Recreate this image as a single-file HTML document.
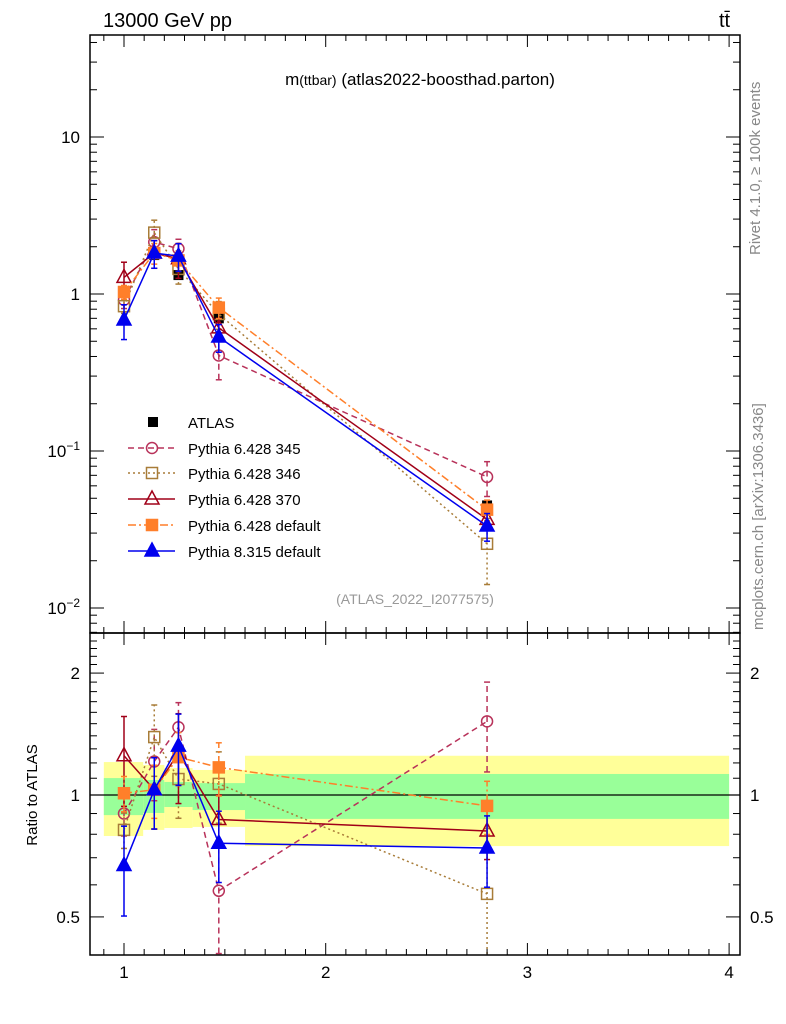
<!DOCTYPE html>
<html><head><meta charset="utf-8">
<style>
html,body{margin:0;padding:0;background:#fff;}
svg{display:block;font-family:"Liberation Sans",sans-serif;}
</style></head>
<body>
<svg id="chart" width="786" height="1024" xmlns="http://www.w3.org/2000/svg">
<defs>
<clipPath id="clipMain"><rect x="90" y="35" width="650" height="598"/></clipPath>
<clipPath id="clipRatio"><rect x="90" y="633" width="650" height="322"/></clipPath>
</defs>
<text x="103" y="27" font-size="20">13000 GeV pp</text>
<text x="719" y="27" font-size="20">tt̄</text>
<text x="420" y="85" font-size="17" text-anchor="middle">m<tspan font-size="14">(ttbar)</tspan> (atlas2022-boosthad.parton)</text>
<text x="415" y="604" font-size="14" fill="#999" text-anchor="middle">(ATLAS_2022_I2077575)</text>
<text transform="translate(760,255) rotate(-90)" font-size="15" fill="#888">Rivet 4.1.0, ≥ 100k events</text>
<text transform="translate(763,630) rotate(-90)" font-size="15" fill="#888">mcplots.cern.ch [arXiv:1306.3436]</text>
<text transform="translate(37,795) rotate(-90)" font-size="15" text-anchor="middle">Ratio to ATLAS</text>
<g id="bands"></g>
<g id="ratio" clip-path="url(#clipRatio)"></g>
<g id="main" clip-path="url(#clipMain)"></g>
<g id="axes"></g>
<g id="legend"></g>
</svg>
<script>
const xs = [1.0, 1.15, 1.27, 1.47, 2.8];
const atlas = [1.02, 1.77, 1.32, 0.70, 0.045];
const atlasErr = [0.04, 0.08, 0.06, 0.04, 0.004];
const r345 = [0.90, 1.21, 1.47, 0.58, 1.52];
const r346 = [0.82, 1.39, 1.095, 1.065, 0.57];
const r370 = [1.25, 1.03, 1.27, 0.87, 0.815];
const rP6def = [1.01, 1.03, 1.24, 1.17, 0.94];
const rP8 = [0.67, 1.03, 1.32, 0.76, 0.74];
const e345 = [0.12, 0.2, 0.15, 0.3, 0.25];
const e346 = [0.1, 0.2, 0.2, 0.2, 0.45];
const e370 = [0.25, 0.2, 0.25, 0.15, 0.15];
const eP6def = [0.1, 0.15, 0.15, 0.15, 0.15];
const eP8 = [0.25, 0.2, 0.2, 0.2, 0.2];
const binEdges = [0.9, 1.095, 1.2, 1.34, 1.6, 4.0];
const yelLo = [0.792, 0.82, 0.829, 0.834, 0.748];
const yelHi = [1.206, 1.186, 1.166, 1.153, 1.25];
const grnLo = [0.892, 0.903, 0.934, 0.918, 0.873];
const grnHi = [1.101, 1.089, 1.077, 1.07, 1.127];
const xTicks = [1, 2, 3, 4];

const NS = "http://www.w3.org/2000/svg";
const L = 90, R = 740, MT = 35, MB = 633, RB = 955;
const X = v => 124 + (v - 1) * 201.7;
const YM = v => 294 - Math.log10(v) * 157;
const YR = v => 795 - Math.log10(v) * 405;
function mk(tag, attrs, parent) {
  const e = document.createElementNS(NS, tag);
  for (const k in attrs) e.setAttribute(k, attrs[k]);
  parent.appendChild(e); return e;
}
const g = id => document.getElementById(id);

for (let i = 0; i < yelLo.length; i++) {
  const x0 = X(binEdges[i]), x1 = X(binEdges[i + 1]);
  const y = mk('rect', {x: x0, y: YR(yelHi[i]), width: x1 - x0, height: YR(yelLo[i]) - YR(yelHi[i]), fill: '#ffff99'}, g('bands'));
  
  
  const gr = mk('rect', {x: x0, y: YR(grnHi[i]), width: x1 - x0, height: YR(grnLo[i]) - YR(grnHi[i]), fill: '#99ff99'}, g('bands'));
  
  
}
mk('line', {x1: L, x2: R, y1: YR(1), y2: YR(1), stroke: '#000', 'stroke-width': 1.2}, g('bands'));

const series = [
  {name: 'Pythia 6.428 345', r: r345, e: e345, c: '#b8325a', dash: '6,4', m: 'circle', fill: 'none'},
  {name: 'Pythia 6.428 346', r: r346, e: e346, c: '#a87c38', dash: '2,3', m: 'square', fill: 'none'},
  {name: 'Pythia 6.428 370', r: r370, e: e370, c: '#a00018', dash: '', m: 'tri', fill: 'none'},
  {name: 'Pythia 6.428 default', r: rP6def, e: eP6def, c: '#ff7f2a', dash: '8,3,2,3', m: 'square', fill: '#ff7f2a'},
  {name: 'Pythia 8.315 default', r: rP8, e: eP8, c: '#0000ee', dash: '', m: 'tri', fill: '#0000ee'}
];
function marker(parent, m, x, y, c, fill) {
  let e;
  if (m === 'circle') e = mk('circle', {cx: x, cy: y, r: 5.5, fill: 'none', stroke: c, 'stroke-width': 1.5}, parent);
  else if (m === 'square') e = mk('rect', {x: x - 5.5, y: y - 5.5, width: 11, height: 11, fill: fill, stroke: c, 'stroke-width': 1.5}, parent);
  else e = mk('polygon', {points: `${x},${y - 8} ${x - 7},${y + 5} ${x + 7},${y + 5}`, fill: fill, stroke: c, 'stroke-width': 1.5}, parent);
  
  
}
function drawSeries(s, parentId, Yf, valFn) {
  const grp = mk('g', {}, g(parentId));
  
  
  const vals = xs.map((_, i) => valFn(i));
  const pts = xs.map((x, i) => X(x) + ',' + Yf(vals[i])).join(' ');
  const line = mk('polyline', {points: pts, fill: 'none', stroke: s.c, 'stroke-width': 1.5, 'stroke-dasharray': s.dash}, grp);
  
  
  xs.forEach((x, i) => {
    const v = vals[i], lo = v * (1 - Math.min(s.e[i], 0.9)), hi = v * (1 + s.e[i]);
    mk('line', {x1: X(x), x2: X(x), y1: Yf(lo), y2: Yf(hi), stroke: s.c, 'stroke-width': 1.5, 'stroke-dasharray': s.dash}, grp);
    mk('line', {x1: X(x) - 3, x2: X(x) + 3, y1: Yf(hi), y2: Yf(hi), stroke: s.c, 'stroke-width': 1.5}, grp);
    mk('line', {x1: X(x) - 3, x2: X(x) + 3, y1: Yf(lo), y2: Yf(lo), stroke: s.c, 'stroke-width': 1.5}, grp);
    marker(grp, s.m, X(x), Yf(v), s.c, s.fill);
  });
}
xs.forEach((x, i) => {
  mk('line', {x1: X(x), x2: X(x), y1: YM(atlas[i] - atlasErr[i]), y2: YM(atlas[i] + atlasErr[i]), stroke: '#000', 'stroke-width': 1.5}, g('main'));
  const r = mk('rect', {x: X(x) - 5, y: YM(atlas[i]) - 5, width: 10, height: 10, fill: '#000'}, g('main'));
  
  
});
series.forEach(s => {
  drawSeries(s, 'main', YM, i => atlas[i] * s.r[i]);
  drawSeries(s, 'ratio', YR, i => s.r[i]);
});

const ax = g('axes');
mk('rect', {x: L, y: MT, width: R - L, height: MB - MT, fill: 'none', stroke: '#000', 'stroke-width': 1.5}, ax);
mk('rect', {x: L, y: MB, width: R - L, height: RB - MB, fill: 'none', stroke: '#000', 'stroke-width': 1.5}, ax);
for (let v = 0.9; v <= 4.0501; v += 0.1) {
  const x = X(v), major = Math.abs(v - Math.round(v)) < 0.01;
  const len = major ? 12 : 6;
  [[MT, 1], [MB, -1], [MB, 1], [RB, -1]].forEach(([y, d]) => mk('line', {x1: x, x2: x, y1: y, y2: y + d * len, stroke: '#000'}, ax));
}
xTicks.forEach(t => {
  const e = mk('text', {x: X(t), y: 978, 'font-size': 17, 'text-anchor': 'middle'}, ax);
  e.textContent = t;
  
  
});
for (let d = -3; d <= 1; d++) for (let k = 1; k <= 9; k++) {
  const v = k * Math.pow(10, d), y = YM(v);
  if (y < MT || y > MB) continue;
  const len = k === 1 ? 14 : 7;
  mk('line', {x1: L, x2: L + len, y1: y, y2: y, stroke: '#000'}, ax);
  mk('line', {x1: R, x2: R - len, y1: y, y2: y, stroke: '#000'}, ax);
}
[[10, '10'], [1, '1']].forEach(([v, s]) => {
  const e = mk('text', {x: 80, y: YM(v) + 6, 'font-size': 17, 'text-anchor': 'end'}, ax);
  e.textContent = s;
  
  
});
[[0.1, '−1'], [0.01, '−2']].forEach(([v, s]) => {
  const e = mk('text', {x: 80, y: YM(v) + 6, 'font-size': 17, 'text-anchor': 'end'}, ax);
  e.innerHTML = '10<tspan dy="-7" font-size="12">' + s + '</tspan>';
  
  
});
for (let v = 0.4; v <= 2.5; v += 0.1) {
  const y = YR(v); if (y < MB || y > RB) continue;
  const major = Math.abs(v - 0.5) < 0.01 || Math.abs(v - 1) < 0.01 || Math.abs(v - 2) < 0.01;
  const len = major ? 14 : 7;
  mk('line', {x1: L, x2: L + len, y1: y, y2: y, stroke: '#000'}, ax);
  mk('line', {x1: R, x2: R - len, y1: y, y2: y, stroke: '#000'}, ax);
}
[[2, '2'], [1, '1'], [0.5, '0.5']].forEach(([v, s]) => {
  const a = mk('text', {x: 80, y: YR(v) + 6, 'font-size': 17, 'text-anchor': 'end'}, ax);
  a.textContent = s;
  
  
  const b = mk('text', {x: 750, y: YR(v) + 6, 'font-size': 17}, ax);
  b.textContent = s;
  
  
});

const lg = g('legend');
const ly = [422, 448, 473, 499, 525, 551];
const at = mk('rect', {x: 148, y: ly[0] - 5, width: 10, height: 10, fill: '#000'}, lg);


const att = mk('text', {x: 188, y: ly[0] + 6, 'font-size': 15}, lg);
att.textContent = 'ATLAS';


series.forEach((s, i) => {
  const y = ly[i + 1];
  mk('line', {x1: 128, x2: 175, y1: y, y2: y, stroke: s.c, 'stroke-width': 1.5, 'stroke-dasharray': s.dash}, lg);
  marker(lg, s.m, 152, y, s.c, s.fill);
  const t = mk('text', {x: 188, y: y + 6, 'font-size': 15}, lg);
  t.textContent = s.name;
  
  
});
</script>
</body></html>
